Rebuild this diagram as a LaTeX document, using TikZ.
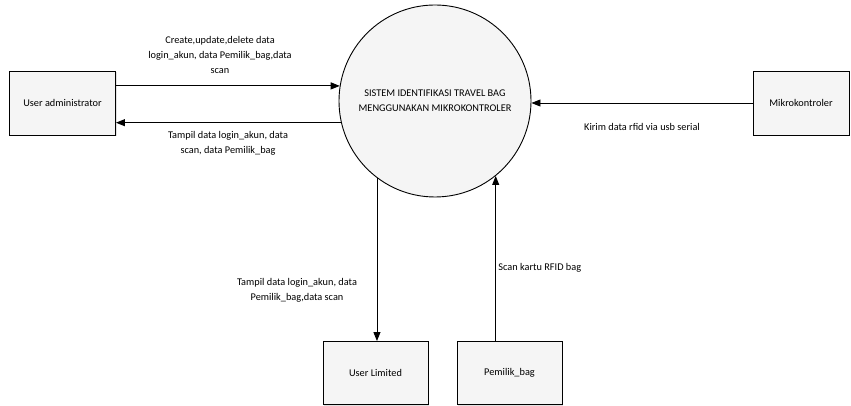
\documentclass[tikz,border=0pt]{standalone}
\usepackage{fontspec}
\setmainfont{Carlito}
\usetikzlibrary{arrows.meta,shadows}

\tikzset{entity/.style={draw, fill=gray!8, minimum width=106pt, minimum height=64pt, align=center,
	drop shadow={shadow xshift=1.2pt, shadow yshift=-1.2pt, fill=gray!45}}}
\tikzset{process/.style={draw, circle, fill=gray!8, minimum size=192pt, align=center, inner sep=0pt}}
\tikzset{flow/.style={-{Triangle[length=9pt,width=7pt]}}}
\tikzset{flowlabel/.style={align=center, inner sep=0pt}}

\begin{document}
\begin{tikzpicture}[x=1pt, y=1pt, line width=0.9pt, font=\fontsize{10.3}{15}\selectfont]
	\useasboundingbox (0,0) rectangle (851,406);

	\node[process] (sys) at (435,305) {SISTEM IDENTIFIKASI TRAVEL BAG\\MENGGUNAKAN MIKROKONTROLER};

	\node[entity] (admin) at (62.5,303) {User administrator};
	\node[entity, minimum width=96pt] (mikro) at (801,303) {Mikrokontroler};
	\node[entity, minimum width=105pt, minimum height=63pt] (userlim) at (375.5,33) {User Limited};
	\node[entity, minimum width=105pt, minimum height=63pt] (pemilik) at (509.5,33) {Pemilik\_bag};

	\node[flowlabel] (crud) at (220,351) {Create,update,delete data\\login\_akun, data Pemilik\_bag,data\\scan};
	\node[flowlabel] (tampil-admin) at (228,263) {Tampil data login\_akun, data\\scan, data Pemilik\_bag};
	\node[flowlabel] (kirim) at (642,279) {Kirim data rfid via usb serial};
	\node[flowlabel, anchor=west] (scan) at (498,138) {Scan kartu RFID bag};
	\node[flowlabel] (tampil-limited) at (297,116) {Tampil data login\_akun, data\\Pemilik\_bag,data scan};

	\draw[flow] (sys.171 -| admin.east) -- (sys.171);
	\draw[flow] (sys.193) -- (sys.193 -| admin.east);
	\draw[flow] (mikro.west) -- (mikro.west -| sys.east);
	\draw[flow] (sys.233) -- (sys.233 |- userlim.north);
	\draw[flow] (sys.309 |- pemilik.north) -- (sys.309);
\end{tikzpicture}
\end{document}
